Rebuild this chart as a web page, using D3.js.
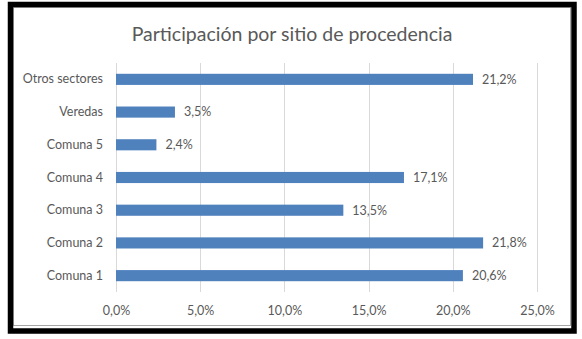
<!DOCTYPE html>
<html>
<head>
<meta charset="utf-8">
<script src="https://cdn.jsdelivr.net/npm/d3@7"></script>
<style>
  body { margin: 0; background: #fff; }
  svg { display: block; }
</style>
</head>
<body>
<div id="chart"></div>
<script>
// Data
const categories = ["Otros sectores", "Veredas", "Comuna 5", "Comuna 4", "Comuna 3", "Comuna 2", "Comuna 1"];
const values = [0.212, 0.035, 0.024, 0.171, 0.135, 0.218, 0.206];
const xTicks = [0, 0.05, 0.10, 0.15, 0.20, 0.25];
const title = "Participación por sitio de procedencia";

const W = 582, H = 339;
const plot = { left: 116, right: 537, top: 63, bottom: 292 };
const font = "Lato, 'Open Sans', sans-serif";
const textColor = "#595959";

const locale = d3.formatLocale({ decimal: ",", thousands: ".", grouping: [3], currency: ["", ""] });
const pct = locale.format(".1%");

const svg = d3.select("#chart")
    .append("svg")
    .attr("width", W)
    .attr("height", H);

svg.append("rect")
    .attr("width", W)
    .attr("height", H)
    .attr("fill", "#fff");

// Scales
const x = d3.scaleLinear()
    .domain([0, 0.25])
    .range([plot.left, plot.right]);

const y = d3.scaleBand()
    .domain(categories)
    .range([plot.top, plot.bottom])
    .paddingInner(0.66)
    .paddingOuter(0.33);

// Gridlines
svg.append("g")
    .selectAll("line")
    .data(xTicks)
    .enter()
    .append("line")
    .attr("x1", d => Math.round(x(d)) + 0.5)
    .attr("x2", d => Math.round(x(d)) + 0.5)
    .attr("y1", plot.top)
    .attr("y2", plot.bottom)
    .attr("stroke", "#d9d9d9")
    .attr("stroke-width", 1);

// X axis labels
const xAxis = d3.axisBottom(x)
    .tickValues(xTicks)
    .tickFormat(pct)
    .tickSize(0)
    .tickPadding(0);

const gx = svg.append("g")
    .attr("transform", `translate(0,${plot.bottom + 14})`)
    .call(xAxis);
gx.select(".domain").remove();
gx.selectAll("text")
    .attr("fill", textColor)
    .style("font-family", font)
    .style("font-size", "12.5px");

// Y axis labels
const yAxis = d3.axisLeft(y)
    .tickSize(0)
    .tickPadding(13);

const gy = svg.append("g")
    .attr("transform", `translate(${plot.left},0)`)
    .call(yAxis);
gy.select(".domain").remove();
gy.selectAll("text")
    .attr("fill", textColor)
    .style("font-family", font)
    .style("font-size", "12.5px");

// Bars
svg.append("g")
    .selectAll("rect")
    .data(categories)
    .enter()
    .append("rect")
    .attr("x", x(0))
    .attr("y", d => y(d))
    .attr("width", (d, i) => x(values[i]) - x(0))
    .attr("height", y.bandwidth())
    .attr("fill", "#4f81bd");

// Value labels
svg.append("g")
    .selectAll("text")
    .data(categories)
    .enter()
    .append("text")
    .attr("x", (d, i) => x(values[i]) + 9)
    .attr("y", d => y(d) + y.bandwidth() / 2)
    .attr("dy", "0.35em")
    .attr("fill", textColor)
    .style("font-family", font)
    .style("font-size", "12.5px")
    .text((d, i) => pct(values[i]));

// Title
svg.append("text")
    .attr("x", 292)
    .attr("y", 41)
    .attr("text-anchor", "middle")
    .attr("fill", textColor)
    .style("font-family", font)
    .style("font-size", "19.5px")
    .text(title);

// Frame
svg.append("rect")
    .attr("x", 13.5)
    .attr("y", 7.5)
    .attr("width", 557)
    .attr("height", 318)
    .attr("fill", "none")
    .attr("stroke", "#a6a6a6")
    .attr("stroke-width", 1);

svg.append("rect")
    .attr("x", 10.5)
    .attr("y", 4.5)
    .attr("width", 563.5)
    .attr("height", 326.5)
    .attr("fill", "none")
    .attr("stroke", "#000")
    .attr("stroke-width", 5.5);
</script>
</body>
</html>
